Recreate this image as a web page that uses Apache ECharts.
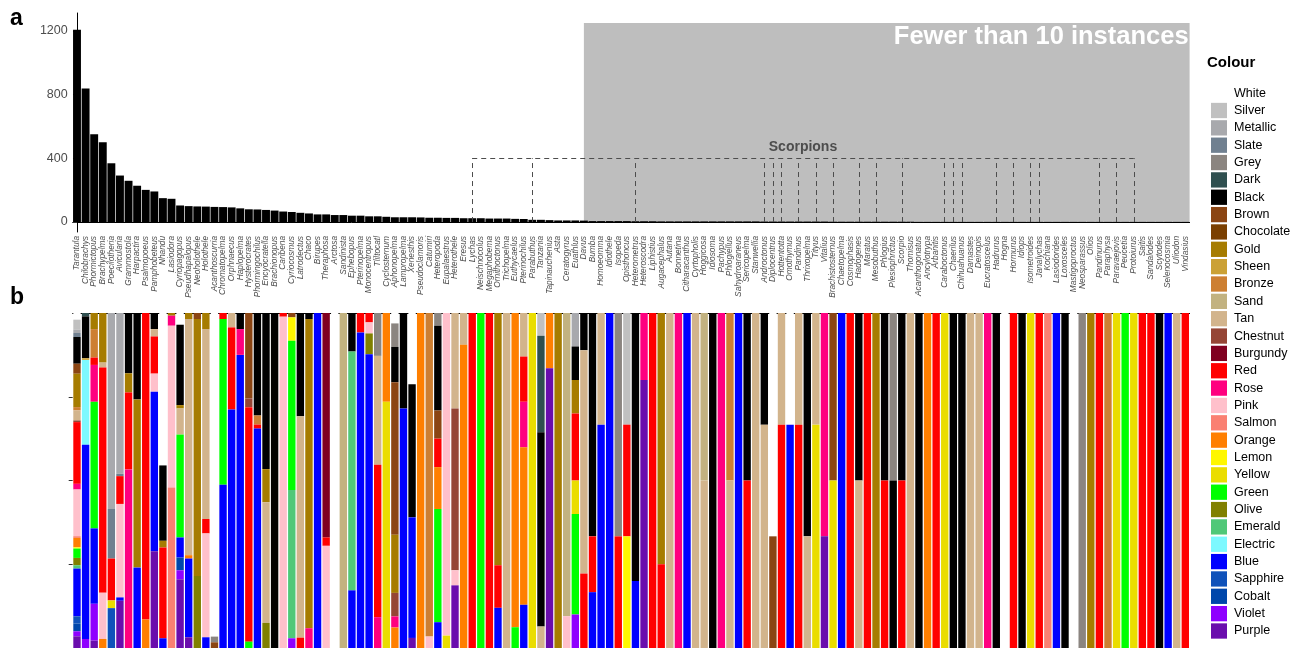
<!DOCTYPE html>
<html><head><meta charset="utf-8">
<script src="https://cdn.jsdelivr.net/npm/echarts@6/dist/echarts.min.js"></script>
<style>html,body{margin:0;padding:0;background:#fff}#c{width:1292px;height:648px}</style>
</head><body><div id="c"></div>
<script>
const genera = ['Tarantula','Chilobrachys','Phormictopus','Brachypelma','Poecilotheria','Avicularia','Grammostola','Harpactira','Psalmopoeus','Pamphobeteus','Nhandu','Lasiodora','Cyriopagopus','Pseudhapalopus','Neoholothele','Holothele','Acanthoscurria','Chromatopelma','Orphnaecus','Haplopelma','Hysterocrates','Phormingochilus','Encyocratella','Brachionopus','Caribena','Cyriocosmus','Latrodectus','Chaco','Birupes','Theraphosa','Arctosa','Sandinista','Ephebopus','Pterinopelma','Monocentropus','Tliltocatl','Cyclosternum','Aphonopelma','Lampropelma','Xenesthis','Pseudoclamoris','Catumiri','Heteropoda','Eupalaestrus','Heterothele','Eresus','Lychas','Neischnocolus','Megaphobema','Ornithoctonus','Trichopelma','Euthycaelus','Pterinochilus','Parabuthus','Tanzania','Tapinauchenius','Asta','Ceratogyrus','Euathlus','Davus','Bumba','Homoeomma','Idiothele','Isopeda','Opisthoncus','Heterometrus','Heteroscodra','Liphistius','Augacephalus','Autana','Bonnetina','Citharacanthus','Cyrtopholis','Hoggicosa','Idiosoma','Pachypus','Phlogiellus','Sahydroaraneus','Sericopelma','Stanwellia','Androctonus','Diplocentrus','Hottentotta','Omothymus','Pandinus','Thrixopelma','Tityus','Vitalius','Brachistosternus','Chaetopelma','Cosmophasis','Hadogenes','Maratus','Mesobuthus','Phlogius','Plesiophrictus','Scorpio','Thomisus','Acanthogonatus','Ancylotrypa','Arbanitis','Caraboctonus','Chaerilus','Chihuahuanus','Damastes','Deinopis','Eucratoscelus','Hadrurus','Hogna','Hormurus','Idiops','Isometroides','Janalychas','Kochiana','Lasiodorides','Loxosceles','Mastigoproctus','Neosparassus','Olios','Pandinurus','Paraphysa','Paravaejovis','Peucetia','Protoiurus','Saitis','Sandalodes','Scytodes','Selenocosmia','Uliodon','Vindasius'];

const counts = [1208,839,551,501,369,292,259,228,202,192,150,146,104,100,98,97,95,94,92,86,80,79,76,72,66,63,58,54,48,48,44,44,40,40,36,36,33,30,30,30,29,27,27,26,26,24,24,24,22,22,22,20,19,14,14,12,10,10,10,
 9,6,6,6,6,6,5,5,5,4,4,4,4,4,4,4,4,4,4,4,4,3,3,3,3,3,3,3,3,2,2,2,2,2,2,2,2,2,2,
 1,1,1,1,1,1,1,1,1,1,1,1,1,1,1,1,1,1,1,1,1,1,1,1,1,1,1,1,1,1,1,1];

const scorpions = ['Lychas','Parabuthus','Heterometrus','Androctonus','Diplocentrus','Hottentotta','Pandinus','Tityus','Brachistosternus','Hadogenes','Mesobuthus','Scorpio','Caraboctonus','Chaerilus','Chihuahuanus','Hadrurus','Hormurus','Isometroides','Janalychas','Pandinurus','Paravaejovis','Protoiurus'];
const scorpionLevel = 400;
const fewStart = 'Davus';
const fewTop = 1250;
const yTicks = [0,400,800,1200];
const fillTicks = [0.25,0.5,0.75];

// colour composition per genus (relative amounts)
const White = [['Tarantula',2],['Nhandu',45.5],['Cyriopagopus',3.5],['Acanthoscurria',96.6],['Arctosa',100],['Aphonopelma',3.1],['Xenesthis',21.3],['Diplocentrus',2],['Omothymus',1],['Hogna',1],['Mastigoproctus',1]];
const Silver = [['Tarantula',3],['Tanzania',6.8],['Opisthoncus',1]];
const Metallic = [['Tarantula',1],['Poecilotheria',58.5],['Avicularia',48],['Euathlus',1]];
const Slate = [['Tarantula',1.2],['Poecilotheria',14.8],['Avicularia',0.7]];
const Grey = [['Acanthoscurria',1.7],['Tliltocatl',12.8],['Aphonopelma',7],['Heteropoda',3.8],['Isopeda',2],['Plesiophrictus',1],['Neosparassus',1]];
const Dark = [['Chilobrachys',1],['Tanzania',28.8]];
const Black = [['Tarantula',8],['Chilobrachys',12.5],['Grammostola',18],['Harpactira',25.8],['Pamphobeteus',4.8],['Nhandu',22.5],['Cyriopagopus',24],['Haplopelma',4.8],['Phormingochilus',30.6],['Encyocratella',46.6],['Brachionopus',100],['Latrodectus',30.8],['Chaco',1.8],['Ephebopus',11.5],['Aphonopelma',10.5],['Lampropelma',28.5],['Xenesthis',39.7],['Heteropoda',25.3],['Tanzania',58],['Euathlus',1],['Davus',1],['Bumba',4],['Heterometrus',4],['Idiosoma',1],['Sericopelma',1],['Androctonus',1],['Thrixopelma',2],['Hadogenes',1],['Phlogius',1],['Plesiophrictus',1],['Scorpio',1],['Acanthogonatus',1],['Chaerilus',1],['Chihuahuanus',1],['Hadrurus',1],['Idiops',1],['Loxosceles',1],['Scytodes',1]];
const Brown = [['Tarantula',3],['Neoholothele',1.8],['Acanthoscurria',1.7],['Hysterocrates',25.5],['Cyriocosmus',1.3],['Aphonopelma',45.4],['Heteropoda',8.4],['Diplocentrus',1],['Brachistosternus',1]];
const Chocolate = [];
const Gold = [['Tarantula',10],['Phormictopus',4.8],['Brachypelma',14.8],['Grammostola',5.7],['Harpactira',50.2],['Nhandu',2],['Lasiodora',0.8],['Cyriopagopus',1],['Pseudhapalopus',1.8],['Neoholothele',76.7],['Holothele',4.8],['Encyocratella',9.9],['Chaco',92.3],['Aphonopelma',17.3],['Ornithoctonus',75.3],['Asta',100],['Euathlus',1],['Augacephalus',3],['Mesobuthus',1],['Olios',1]];
const Sheen = [['Chilobrachys',0.5]];
const Bronze = [['Tarantula',1],['Phormictopus',8.5],['Phormingochilus',2.7],['Catumiri',96.6],['Phlogiellus',1],['Paraphysa',1]];
const Sand = [['Sandinista',100],['Ceratogyrus',90.5],['Hoggicosa',1]];
const Tan = [['Tarantula',3],['Brachypelma',1.5],['Pamphobeteus',2.2],['Cyriopagopus',7.8],['Pseudhapalopus',70.5],['Holothele',56.7],['Orphnaecus',4.3],['Encyocratella',36],['Latrodectus',66.1],['Tliltocatl',32.5],['Heterothele',28.5],['Eresus',9.5],['Trichopelma',100],['Pterinochilus',13],['Tanzania',6.4],['Davus',6],['Homoeomma',1],['Autana',1],['Cyrtopholis',1],['Hoggicosa',1],['Phlogiellus',1],['Stanwellia',1],['Androctonus',2],['Hottentotta',1],['Pandinus',1],['Thrixopelma',1],['Tityus',1],['Hadogenes',1],['Thomisus',1],['Damastes',1],['Deinopis',1],['Uliodon',1]];
const Chestnut = [['Tarantula',0.5],['Hysterocrates',2.6],['Aphonopelma',7],['Heterothele',48.3]];
const Burgundy = [['Theraphosa',67]];
const Red = [['Tarantula',18.5],['Phormictopus',2.2],['Brachypelma',67.2],['Poecilotheria',12.5],['Avicularia',8.3],['Grammostola',23],['Psalmopoeus',91.5],['Pamphobeteus',11.1],['Nhandu',27.1],['Holothele',4.3],['Chromatopelma',1.8],['Orphnaecus',24.5],['Hysterocrates',70],['Phormingochilus',1.2],['Caribena',1.1],['Latrodectus',3.1],['Theraphosa',2.5],['Pterinopelma',5.8],['Monocentropus',2.8],['Tliltocatl',45.5],['Heteropoda',8.5],['Lychas',100],['Megaphobema',100],['Ornithoctonus',12.7],['Pterinochilus',13.5],['Euathlus',2],['Davus',2],['Bumba',1],['Isopeda',1],['Opisthoncus',1],['Liphistius',1],['Augacephalus',1],['Sericopelma',1],['Hottentotta',2],['Pandinus',2],['Cosmophasis',1],['Maratus',1],['Phlogius',1],['Scorpio',1],['Arbanitis',1],['Hormurus',1],['Janalychas',1],['Pandinurus',1],['Saitis',1],['Sandalodes',1],['Vindasius',1]];
const Rose = [['Tarantula',1.7],['Phormictopus',11],['Grammostola',53.3],['Lasiodora',3],['Haplopelma',7.7],['Chaco',5.9],['Tliltocatl',9.2],['Aphonopelma',3.3],['Pterinochilus',13.6],['Heteroscodra',1],['Bonnetina',1],['Pachypus',1],['Vitalius',2],['Eucratoscelus',1]];
const Pink = [['Tarantula',14],['Brachypelma',13.8],['Avicularia',27.9],['Pamphobeteus',5.4],['Lasiodora',48.3],['Holothele',31],['Caribena',98.9],['Theraphosa',30.5],['Monocentropus',3.3],['Catumiri',3.4],['Eupalaestrus',96.3],['Heterothele',4.5],['Ceratogyrus',9.5]];
const Salmon = [['Tarantula',0.5],['Lasiodora',47.9],['Kochiana',1]];
const Orange = [['Tarantula',2.8],['Brachypelma',2.7],['Psalmopoeus',8.5],['Pseudhapalopus',1],['Cyclosternum',26.5],['Aphonopelma',6.1],['Pseudoclamoris',100],['Heteropoda',12.5],['Eresus',90.5],['Euthycaelus',93.8],['Pterinochilus',47],['Tapinauchenius',16.5],['Ancylotrypa',1]];
const Lemon = [['Tarantula',0.4],['Cyriocosmus',7],['Opisthoncus',1]];
const Yellow = [['Poecilotheria',2.3],['Cyclosternum',73.5],['Eupalaestrus',3.7],['Parabuthus',100],['Euathlus',1],['Tityus',2],['Brachistosternus',1],['Caraboctonus',1],['Isometroides',1],['Paravaejovis',1],['Protoiurus',1]];
const Green = [['Tarantula',2.8],['Phormictopus',37.8],['Cyriopagopus',30.7],['Chromatopelma',49.5],['Hysterocrates',1.9],['Cyriocosmus',44.5],['Heteropoda',33.8],['Neischnocolus',100],['Euthycaelus',6.2],['Euathlus',3],['Peucetia',1]];
const Olive = [['Tarantula',2.2],['Neoholothele',21.5],['Encyocratella',7.5],['Monocentropus',6.2]];
const Emerald = [['Tarantula',1],['Cyriocosmus',44.3],['Ephebopus',71.3]];
const Electric = [['Chilobrachys',25.3]];
const Blue = [['Tarantula',14.3],['Chilobrachys',58],['Phormictopus',22.5],['Avicularia',1],['Harpactira',24],['Pamphobeteus',47.6],['Nhandu',2.9],['Cyriopagopus',6],['Pseudhapalopus',23.5],['Holothele',3.2],['Chromatopelma',48.7],['Orphnaecus',71.2],['Haplopelma',87.5],['Phormingochilus',65.5],['Birupes',100],['Ephebopus',17.2],['Pterinopelma',94.2],['Monocentropus',87.7],['Lampropelma',71.5],['Xenesthis',36],['Heteropoda',7.7],['Ornithoctonus',12],['Pterinochilus',12.9],['Bumba',1],['Homoeomma',2],['Idiothele',1],['Heterometrus',1],['Citharacanthus',1],['Sahydroaraneus',1],['Omothymus',2],['Chaetopelma',1],['Lasiodorides',1],['Selenocosmia',1]];
const Sapphire = [['Tarantula',2.2],['Poecilotheria',11.9]];
const Cobalt = [['Tarantula',2.3],['Cyriopagopus',3.8]];
const Violet = [['Tarantula',1.5],['Chilobrachys',2.7],['Phormictopus',11],['Cyriopagopus',2.7],['Cyriocosmus',2.9],['Euathlus',1]];
const Purple = [['Tarantula',3.5],['Phormictopus',2.2],['Avicularia',14.1],['Pamphobeteus',28.9],['Cyriopagopus',20.5],['Pseudhapalopus',3.2],['Xenesthis',3],['Heterothele',18.7],['Tapinauchenius',83.5],['Heteroscodra',4],['Vitalius',1]];

const colourNames = ['White','Silver','Metallic','Slate','Grey','Dark','Black','Brown','Chocolate','Gold','Sheen','Bronze','Sand','Tan','Chestnut','Burgundy','Red','Rose','Pink','Salmon','Orange','Lemon','Yellow','Green','Olive','Emerald','Electric','Blue','Sapphire','Cobalt','Violet','Purple'];
const colourHex = ['#FFFFFF','#C0C0C0','#A8A9AD','#708090','#8B8580','#2F4F4F','#000000','#8B4513','#7B3F00','#A67C00','#CBA135','#CD7F32','#C2B280','#D2B48C','#954535','#800020','#FF0000','#FF007F','#FFC0CB','#FA8072','#FF7F00','#FFF700','#EADD00','#00FF00','#808000','#50C878','#7DF9FF','#0000FF','#0F52BA','#0047AB','#8F00FF','#6A0DAD'];
const colourLists = [White,Silver,Metallic,Slate,Grey,Dark,Black,Brown,Chocolate,Gold,Sheen,Bronze,Sand,Tan,Chestnut,Burgundy,Red,Rose,Pink,Salmon,Orange,Lemon,Yellow,Green,Olive,Emerald,Electric,Blue,Sapphire,Cobalt,Violet,Purple];

// ---- build ----
const totals = genera.map(() => 0);
colourLists.forEach(list => list.forEach(([g, v]) => { totals[genera.indexOf(g)] += v; }));
const stackSeries = colourLists.map((list, k) => {
  const arr = genera.map(() => 0);
  list.forEach(([g, v]) => { const i = genera.indexOf(g); arr[i] += v / totals[i]; });
  return {
    name: colourNames[k], type: 'bar', stack: 'col', xAxisIndex: 2, yAxisIndex: 1,
    data: arr, barCategoryGap: '14%', itemStyle: { color: colourHex[k] }, silent: true, z: 2
  };
});

const FONT = 'Liberation Sans, Arial, sans-serif';
const fewIdx = genera.indexOf(fewStart);
const sIdx = scorpions.map(s => genera.indexOf(s));
const firstS = Math.min(...sIdx), lastS = Math.max(...sIdx);
const lineData = sIdx.map(i => [{ coord: [i, 0] }, { coord: [i, scorpionLevel] }]);
lineData.push([{ coord: [firstS, scorpionLevel], label: { show: true } }, { coord: [lastS, scorpionLevel] }]);

const chart = echarts.init(document.getElementById('c'), null, { renderer: 'canvas' });
chart.setOption({
  animation: false,
  backgroundColor: '#fff',
  textStyle: { fontFamily: FONT },
  grid: [
    { left: 72.7, width: 1116.9, top: 13, height: 219 },
    { left: 72.7, width: 1116.9, top: 313, height: 337 }
  ],
  xAxis: [
    { type: 'category', gridIndex: 0, data: genera, position: 'bottom',
      axisLine: { lineStyle: { color: '#000', width: 1 } },
      axisTick: { alignWithLabel: true, length: 4, lineStyle: { color: '#333' } },
      axisLabel: { interval: 0, rotate: 90, fontSize: 8.3, fontStyle: 'italic', color: '#4d4d4d', margin: 4, fontFamily: FONT } },
    { type: 'value', gridIndex: 0, min: -0.5, max: genera.length - 0.5, show: false },
    { type: 'category', gridIndex: 1, data: genera, position: 'top',
      axisLine: { lineStyle: { color: '#000', width: 1 } },
      axisTick: { alignWithLabel: true, length: 4, lineStyle: { color: '#333' } },
      axisLabel: { show: false } }
  ],
  yAxis: [
    { type: 'value', gridIndex: 0, min: -62.5, max: 1312.5,
      axisLine: { show: true, lineStyle: { color: '#000' } },
      axisTick: { show: true, length: 4, customValues: yTicks, lineStyle: { color: '#333' } },
      axisLabel: { customValues: yTicks, formatter: v => String(v), fontSize: 12.5, color: '#4d4d4d', margin: 5, fontFamily: FONT },
      splitLine: { show: false } },
    { type: 'value', gridIndex: 1, min: 0, max: 1, inverse: true,
      axisLine: { show: false },
      axisTick: { show: true, length: 4, customValues: fillTicks, lineStyle: { color: '#333' } },
      axisLabel: { show: false, customValues: fillTicks }, splitLine: { show: false } }
  ],
  legend: {
    orient: 'vertical', left: 1206, top: 80.5, itemWidth: 16, itemHeight: 15.3, itemGap: 2.05,
    icon: 'rect', data: colourNames, selectedMode: false,
    textStyle: { fontSize: 12.5, color: '#000', fontFamily: FONT, padding: [0, 0, 0, 2] }
  },
  graphic: [
    { type: 'text', left: 10, top: 7, style: { text: 'a', font: 'bold 23px ' + FONT, fill: '#000' } },
    { type: 'text', left: 10, top: 286, style: { text: 'b', font: 'bold 23px ' + FONT, fill: '#000' } },
    { type: 'text', left: 1207, top: 55, style: { text: 'Colour', font: 'bold 15px ' + FONT, fill: '#000' } }
  ],
  series: [
    { type: 'scatter', xAxisIndex: 1, yAxisIndex: 0, data: [[fewIdx, 0]], symbolSize: 0, silent: true, z: 1,
      markArea: { silent: true, itemStyle: { color: '#BEBEBE' },
        label: { show: true, position: 'insideTopRight', distance: 1, color: '#fff', fontSize: 25.5, fontWeight: 'bold', fontFamily: FONT },
        data: [[{ coord: [fewIdx, 0], name: 'Fewer than 10 instances' }, { coord: [genera.length - 0.5, fewTop] }]] } },
    { name: 'count', type: 'bar', xAxisIndex: 0, yAxisIndex: 0, data: counts, barCategoryGap: '8%',
      itemStyle: { color: '#000' }, silent: true, z: 2 },
    { type: 'scatter', xAxisIndex: 1, yAxisIndex: 0, data: [[fewIdx, 0]], symbolSize: 0, silent: true, z: 3,
      markLine: { silent: true, symbol: ['none', 'none'], animation: false,
        lineStyle: { type: [5, 4], color: '#4d4d4d', width: 1 },
        label: { show: false, formatter: 'Scorpions', position: 'middle', distance: 4, color: '#4d4d4d', fontSize: 14, fontWeight: 'bold', fontFamily: FONT },
        data: lineData } },
    ...stackSeries
  ]
});
</script></body></html>
